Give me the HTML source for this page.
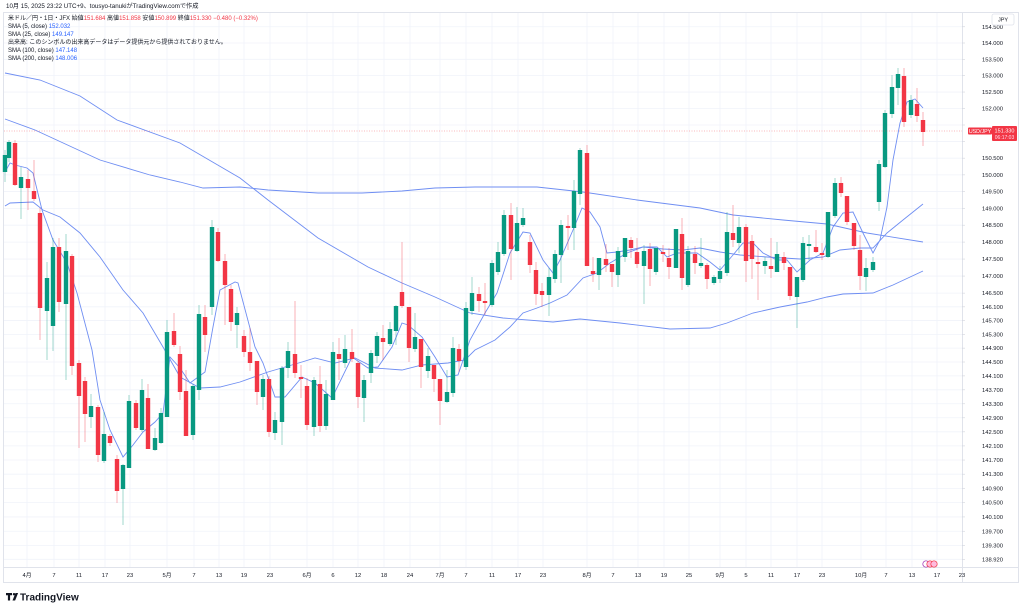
<!DOCTYPE html>
<html><head><meta charset="utf-8">
<style>
html,body{margin:0;padding:0;background:#fff;}
body{width:1024px;height:609px;overflow:hidden;position:relative;font-family:"Liberation Sans","Noto Sans CJK JP",sans-serif;}
svg{position:absolute;left:0;top:0;}
</style></head>
<body>
<svg id="s" width="1024" height="609" viewBox="0 0 1024 609" xmlns="http://www.w3.org/2000/svg" font-family="Liberation Sans, Noto Sans CJK JP, sans-serif">
<rect x="0" y="0" width="1024" height="609" fill="#fff"/>
<text x="6" y="8" font-size="6.2" fill="#131722">10月 15, 2025 23:22 UTC+9、tousyo-tanukiがTradingView.comで作成</text>
<rect x="3.5" y="12.5" width="1015" height="570" fill="none" stroke="#e0e3eb" stroke-width="1"/>
<g id="grid"></g>
<g id="ma" fill="none" stroke="#6f8ef2" stroke-width="0.9"></g>
<g id="candles"></g>
<line x1="4" y1="131" x2="962" y2="131" stroke="#f23645" stroke-width="0.6" stroke-dasharray="1,1.5" opacity="0.7"/>
<line x1="962.5" y1="13" x2="962.5" y2="582" stroke="#e0e3eb" stroke-width="1"/>
<line x1="4" y1="567.5" x2="1018" y2="567.5" stroke="#e0e3eb" stroke-width="1"/>
<g id="axis" font-size="5.8" fill="#131722"></g>
<g font-size="6" fill="#131722">
<text x="8" y="20">米ドル／円・1日・JFX <tspan>始値</tspan><tspan fill="#f23645">151.684</tspan> 高値<tspan fill="#f23645">151.858</tspan> 安値<tspan fill="#f23645">150.899</tspan> 終値<tspan fill="#f23645">151.330 −0.480 (−0.32%)</tspan></text>
<text x="8" y="28">SMA (5, close) <tspan fill="#2962ff">152.032</tspan></text>
<text x="8" y="36">SMA (25, close) <tspan fill="#2962ff">149.147</tspan></text>
<text x="8" y="44">出来高: このシンボルの出来高データはデータ提供元から提供されておりません。</text>
<text x="8" y="52">SMA (100, close) <tspan fill="#2962ff">147.148</tspan></text>
<text x="8" y="60">SMA (200, close) <tspan fill="#2962ff">148.006</tspan></text>
</g>
<rect x="992" y="14" width="22" height="11" rx="2" fill="#fff" stroke="#e0e3eb" stroke-width="0.8"/>
<text x="1003" y="21.5" font-size="5.5" text-anchor="middle" fill="#131722">JPY</text>
<rect x="968" y="127.5" width="24" height="7" rx="1" fill="#f23645"/>
<text x="980" y="133" font-size="5.3" text-anchor="middle" fill="#fff">USD/JPY</text>
<rect x="992" y="126" width="25" height="15" rx="1" fill="#f23645"/>
<text x="1004.5" y="132.5" font-size="5.5" text-anchor="middle" fill="#fff">151.330</text>
<text x="1004.5" y="139" font-size="5" text-anchor="middle" fill="#fde">06:17:03</text>
<circle cx="926" cy="564" r="3.2" fill="#fff" stroke="#9c27b0" stroke-width="0.7"/>
<circle cx="930" cy="564" r="3.2" fill="#fbd" stroke="#f23645" stroke-width="0.7"/>
<circle cx="934" cy="564" r="3.2" fill="#fbd" stroke="#f23645" stroke-width="0.7"/>
<g transform="translate(6,593)">
<path d="M0 0h6v2.2h-1.9v5.3h-2.2v-5.3h-1.9z" fill="#131722"/>
<circle cx="8" cy="1.2" r="1.2" fill="#131722"/>
<path d="M9.5 0h2.6l-3 7.5h-2.6z" fill="#131722"/>
<text x="14" y="7.4" font-size="10" font-weight="bold" fill="#131722">TradingView</text>
</g>
</svg>
<script>
(function(){
var NS="http://www.w3.org/2000/svg";
function el(p,t,a,txt){var e=document.createElementNS(NS,t);for(var k in a)e.setAttribute(k,a[k]);if(txt!==undefined)e.textContent=txt;p.appendChild(e);return e;}
function py(p){return 43+5010*(Math.log(154)-Math.log(p));}
var grid=document.getElementById('grid'),axis=document.getElementById('axis');
var labels=[];
for(var v=154.5;v>=146.49;v-=0.5)labels.push(v);
for(var v=146.1;v>=139.29;v-=0.4)labels.push(v);
labels.push(138.92);
labels.forEach(function(v){var y=py(v);if(y<14)return;
 el(grid,'line',{x1:4,x2:962,y1:y,y2:y,stroke:'#f0f3fa','stroke-width':0.8});
 el(axis,'line',{x1:962,x2:965,y1:y,y2:y,stroke:'#d1d4dc','stroke-width':0.6});
 if(y>124&&y<144)return;
 el(axis,'text',{x:982,y:y+2},v.toFixed(3));
});
var dates=[[27,'4月'],[54,'7'],[79,'11'],[105,'17'],[130,'23'],[167,'5月'],[194,'7'],[219,'13'],[244,'19'],[270,'23'],[307,'6月'],[333,'6'],[358,'12'],[384,'18'],[410,'24'],[440,'7月'],[466,'7'],[492,'11'],[518,'17'],[543,'23'],[587,'8月'],[613,'7'],[638,'13'],[664,'19'],[689,'25'],[720,'9月'],[746,'5'],[771,'11'],[797,'17'],[822,'23'],[861,'10月'],[886,'7'],[912,'13'],[937,'17'],[962,'23']];
dates.forEach(function(d){
 if(d[0]<960)el(grid,'line',{x1:d[0],x2:d[0],y1:13,y2:567,stroke:'#f0f3fa','stroke-width':0.8});
 el(axis,'text',{x:d[0],y:577,'text-anchor':'middle'},d[1]);
});
var ma=document.getElementById('ma');
function line(pts){el(ma,'polyline',{points:pts.map(function(p){return p.join(',')}).join(' ')});}
line([[5,73],[40,80],[80,96],[117,120],[180,143],[240,178],[268,200],[318,238],[368,267],[402,283],[435,297],[470,313],[503,318],[553,322],[580,319],[620,323],[670,329],[710,328],[727,323],[753,313],[780,307],[807,302],[827,297],[843,294],[873,293],[893,285],[923,271]]);
line([[5,119],[35,130],[100,160],[150,175],[180,182],[203,188],[240,187],[268,190],[318,193],[362,193],[402,191],[435,188],[475,187],[537,187],[583,192],[637,200],[700,208],[733,215],[783,220],[827,224],[867,233],[923,242]]);
line([[5,206],[10,203],[33,202],[43,210],[60,217],[80,233],[100,257],[123,290],[143,313],[163,347],[180,377],[200,388],[220,387],[240,382],[268,372],[302,362],[315,358],[335,363],[355,358],[375,368],[402,370],[422,365],[448,363],[465,360],[475,350],[495,340],[510,327],[523,313],[537,308],[550,303],[567,295],[583,278],[597,273],[610,263],[627,253],[643,247],[663,249],[683,250],[700,248],[720,252],[740,255],[767,257],[800,259],[823,257],[840,250],[860,248],[873,248],[887,233],[903,220],[923,204]]);
line([[5,172],[10,163],[15,165],[27,168],[33,173],[42,210],[53,240],[67,263],[77,293],[92,350],[100,400],[110,430],[123,457],[133,445],[143,432],[155,422],[163,413],[170,357],[180,368],[190,383],[205,372],[213,327],[220,290],[235,282],[238,283],[255,347],[263,363],[275,397],[285,397],[302,377],[315,383],[332,398],[352,357],[368,368],[378,367],[392,347],[402,323],[408,325],[422,337],[435,357],[447,377],[458,375],[470,340],[485,313],[497,293],[510,253],[523,232],[530,233],[543,260],[553,273],[560,260],[573,230],[582,208],[590,212],[600,227],[607,253],[617,252],[630,250],[643,247],[657,247],[667,257],[677,253],[697,253],[710,262],[720,270],[733,255],[743,243],[753,243],[763,253],[777,260],[787,260],[797,272],[810,260],[823,253],[833,227],[843,213],[853,212],[863,233],[873,253],[880,240],[887,207],[893,160],[900,123],[907,102],[915,99],[923,108]]);
var C=[[5,155,172,150,182,'g'],[9,142,158,140,162,'g'],[15,143,185,140,186,'r'],[21,177,188,167,219,'g'],[28,179,188,170,210,'r'],[34,191,199,160,201,'r'],[40,213,308,208,340,'r'],[47,278,311,262,360,'g'],[53,247,326,238,351,'g'],[59,247,302,238,312,'r'],[66,251,304,234,380,'g'],[72,256,366,254,375,'r'],[79,363,396,360,448,'r'],[85,381,414,377,442,'r'],[91,406,417,394,428,'g'],[98,407,455,405,462,'r'],[104,434,461,412,463,'g'],[110,436,443,434,446,'r'],[117,459,491,455,503,'r'],[123,465,489,464,525,'g'],[129,401,468,395,468,'g'],[136,403,428,400,430,'r'],[142,390,430,379,432,'g'],[148,398,449,384,449,'r'],[155,438,450,428,451,'g'],[161,413,443,408,444,'g'],[167,332,417,320,417,'g'],[174,331,345,313,347,'r'],[180,354,392,346,400,'r'],[186,391,436,370,436,'r'],[193,386,435,384,440,'g'],[199,314,390,305,400,'g'],[205,317,335,305,352,'r'],[212,227,307,220,315,'g'],[218,232,261,228,262,'r'],[225,261,285,254,325,'r'],[231,289,322,285,331,'r'],[237,313,325,307,348,'g'],[244,336,352,330,357,'r'],[250,352,363,328,371,'r'],[257,361,392,361,405,'r'],[263,379,397,375,410,'g'],[269,379,432,376,437,'r'],[275,420,433,412,440,'g'],[282,368,422,366,445,'g'],[288,351,368,342,378,'g'],[295,354,373,301,378,'r'],[301,377,379,365,398,'r'],[307,386,425,378,430,'r'],[314,380,427,377,436,'g'],[320,384,426,366,432,'r'],[326,394,426,380,430,'g'],[333,352,400,342,400,'g'],[339,354,359,338,380,'r'],[345,349,363,335,368,'g'],[352,352,359,329,362,'r'],[358,363,397,361,408,'r'],[364,380,398,375,422,'g'],[371,353,373,350,383,'g'],[377,336,356,332,363,'g'],[383,338,342,325,360,'r'],[390,329,344,322,346,'g'],[396,306,331,305,345,'g'],[402,292,306,242,308,'r'],[409,307,348,307,362,'r'],[415,337,349,313,352,'g'],[421,339,367,339,388,'r'],[428,356,371,348,378,'g'],[434,365,379,365,392,'r'],[440,379,401,379,425,'r'],[447,392,402,370,403,'g'],[453,348,393,337,397,'g'],[459,349,361,344,372,'r'],[466,308,367,302,370,'g'],[472,293,311,277,315,'g'],[479,294,301,287,312,'r'],[485,301,303,283,315,'r'],[492,263,305,260,307,'g'],[498,252,272,242,275,'g'],[504,215,254,210,256,'g'],[511,215,249,203,280,'r'],[517,223,251,207,252,'g'],[523,218,225,208,227,'g'],[530,242,265,235,273,'r'],[536,270,294,262,305,'r'],[542,291,295,283,307,'r'],[549,277,295,268,316,'g'],[555,254,279,250,283,'g'],[561,225,255,220,283,'g'],[568,226,228,215,250,'r'],[574,191,228,180,250,'g'],[580,150,194,148,205,'g'],[587,153,266,145,266,'r'],[593,271,274,257,282,'r'],[599,258,275,258,290,'g'],[606,259,265,244,272,'r'],[612,264,272,264,287,'r'],[618,251,275,247,287,'g'],[625,238,257,238,262,'g'],[631,240,248,237,258,'r'],[637,252,264,238,268,'r'],[644,251,266,245,304,'g'],[650,249,269,243,286,'r'],[656,248,272,248,275,'g'],[663,252,254,245,262,'r'],[669,258,267,248,279,'r'],[676,229,268,229,268,'g'],[682,234,278,218,290,'r'],[688,251,285,246,287,'g'],[695,254,263,246,274,'r'],[701,263,266,238,268,'g'],[707,265,279,263,289,'r'],[714,277,283,275,285,'g'],[720,271,279,266,283,'g'],[727,232,273,212,276,'g'],[733,233,240,205,247,'r'],[739,227,243,217,253,'g'],[746,227,261,224,282,'r'],[752,241,259,235,279,'r'],[758,262,264,248,300,'r'],[765,261,266,257,274,'g'],[771,266,269,238,278,'r'],[777,254,272,242,272,'g'],[784,257,263,252,270,'r'],[790,267,296,267,300,'r'],[797,277,297,277,328,'g'],[803,243,280,237,282,'g'],[809,244,246,235,260,'g'],[816,247,252,230,253,'r'],[822,253,255,243,260,'r'],[828,212,257,212,258,'g'],[835,183,216,178,218,'g'],[841,183,193,177,197,'r'],[847,196,222,196,225,'r'],[854,223,246,223,250,'r'],[860,250,276,235,290,'r'],[866,268,277,258,291,'g'],[873,262,270,257,272,'g'],[879,164,202,160,211,'g'],[885,113,167,110,168,'g'],[892,87,114,75,118,'g'],[898,74,88,68,105,'g'],[904,76,122,68,127,'r'],[911,100,115,95,118,'g'],[917,104,116,88,122,'r'],[923,120,132,112,146,'r']];
var cg=document.getElementById('candles');
C.forEach(function(c){var col=c[5]=='g'?'#089981':'#f23645';
 el(cg,'line',{x1:c[0],x2:c[0],y1:c[3],y2:c[4],stroke:col,'stroke-width':0.7,opacity:0.55});
 var h=Math.max(c[2]-c[1],1);
 el(cg,'rect',{x:c[0]-2.2,y:c[1],width:4.4,height:h,fill:col});
});
})();
</script>
</body></html>
